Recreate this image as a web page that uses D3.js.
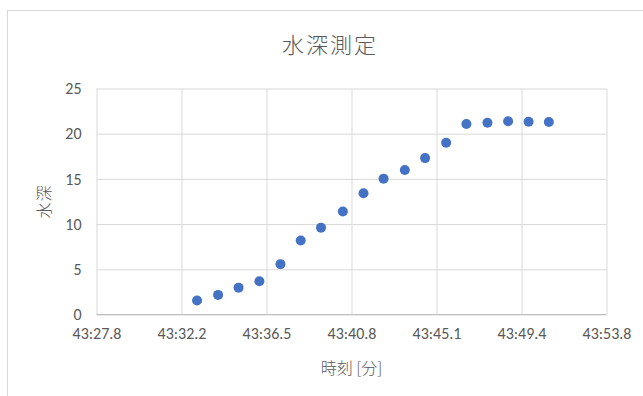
<!DOCTYPE html>
<html>
<head>
<meta charset="utf-8">
<script src="https://cdn.jsdelivr.net/npm/d3@7"></script>
<style>
  html, body { margin: 0; padding: 0; background: #fff; }
  svg { display: block; }
</style>
</head>
<body>
<script>
// ---- Data (time in seconds after 43:00, depth values) ----
const timeSeconds = [33.00, 34.07, 35.11, 36.17, 37.24, 38.27, 39.30, 40.41, 41.46,
                     42.48, 43.56, 44.59, 45.66, 46.69, 47.76, 48.81, 49.85, 50.88];
const depthValues = [1.54, 2.17, 2.97, 3.67, 5.57, 8.18, 9.61, 11.40, 13.41,
                     15.03, 15.99, 17.30, 18.99, 21.08, 21.22, 21.37, 21.33, 21.30];
const xTickValues = [27.89, 32.21, 36.53, 40.85, 45.17, 49.49, 53.81];
const xTickLabels = ["43:27.8", "43:32.2", "43:36.5", "43:40.8", "43:45.1", "43:49.4", "43:53.8"];
const yTickValues = [0, 5, 10, 15, 20, 25];
const chartTitle = "水深測定";
const xAxisTitle = "時刻 [分]";
const yAxisTitle = "水深";

const W = 643, H = 396;
const plot = { left: 96.5, right: 606.5, top: 88.5, bottom: 314.5 };
const textColor = "#595959";
const gridColor = "#d9d9d9";
const latinFont = "Calibri, Carlito, 'Liberation Sans', Arial, sans-serif";
const cjkFont = "'Noto Sans CJK JP', 'Noto Sans CJK SC', sans-serif";

const svg = d3.select("body").append("svg").attr("width", W).attr("height", H);

// chart frame
svg.append("rect")
  .attr("x", 7.5).attr("y", 10.5).attr("width", 700).attr("height", 500)
  .attr("fill", "#fff").attr("stroke", gridColor).attr("stroke-width", 1);

const x = d3.scaleLinear().domain([xTickValues[0], xTickValues[xTickValues.length - 1]])
  .range([plot.left, plot.right]);
const y = d3.scaleLinear().domain([0, 25]).range([plot.bottom, plot.top]);

// horizontal gridlines + y labels
const yAxis = d3.axisLeft(y).tickValues(yTickValues).tickSize(-(plot.right - plot.left)).tickPadding(15);
const gy = svg.append("g").attr("transform", `translate(${plot.left},0)`).call(yAxis);
gy.select(".domain").remove();
gy.selectAll(".tick line").attr("stroke", gridColor).attr("stroke-width", 1);
gy.selectAll(".tick text").attr("fill", textColor)
  .style("font-family", latinFont).style("font-size", "16px");

// vertical gridlines + x labels
const xAxis = d3.axisBottom(x).tickValues(xTickValues)
  .tickFormat((d, i) => xTickLabels[i])
  .tickSize(-(plot.bottom - plot.top)).tickPadding(13);
const gx = svg.append("g").attr("transform", `translate(0,${plot.bottom})`).call(xAxis);
gx.select(".domain").remove();
gx.selectAll(".tick line").attr("stroke", gridColor).attr("stroke-width", 1);
gx.selectAll(".tick text").attr("fill", textColor)
  .style("font-family", latinFont).style("font-size", "16px");

// bottom axis line
svg.append("line")
  .attr("x1", plot.left).attr("x2", plot.right)
  .attr("y1", y(0)).attr("y2", y(0))
  .attr("stroke", "#bfbfbf").attr("stroke-width", 1);

// points
svg.append("g").selectAll("circle")
  .data(timeSeconds.map((t, i) => ({ t, v: depthValues[i] })))
  .join("circle")
  .attr("cx", d => x(d.t))
  .attr("cy", d => y(d.v))
  .attr("r", 5)
  .attr("fill", "#4472C4");

// title
svg.append("text")
  .attr("x", 330).attr("y", 53)
  .attr("text-anchor", "middle")
  .attr("fill", textColor)
  .style("font-family", cjkFont).style("font-size", "22px")
  .style("letter-spacing", "2px").style("font-weight", "300")
  .text(chartTitle);

// x-axis title
svg.append("text")
  .attr("x", (plot.left + plot.right) / 2).attr("y", 374)
  .attr("text-anchor", "middle")
  .attr("fill", textColor)
  .style("font-family", cjkFont).style("font-size", "16px").style("font-weight", "300")
  .text(xAxisTitle);

// y-axis title
svg.append("text")
  .attr("transform", `translate(50,${(plot.top + plot.bottom) / 2}) rotate(-90)`)
  .attr("text-anchor", "middle")
  .attr("fill", textColor)
  .style("font-family", cjkFont).style("font-size", "16px").style("font-weight", "300")
  .style("letter-spacing", "1px")
  .text(yAxisTitle);
</script>
</body>
</html>
